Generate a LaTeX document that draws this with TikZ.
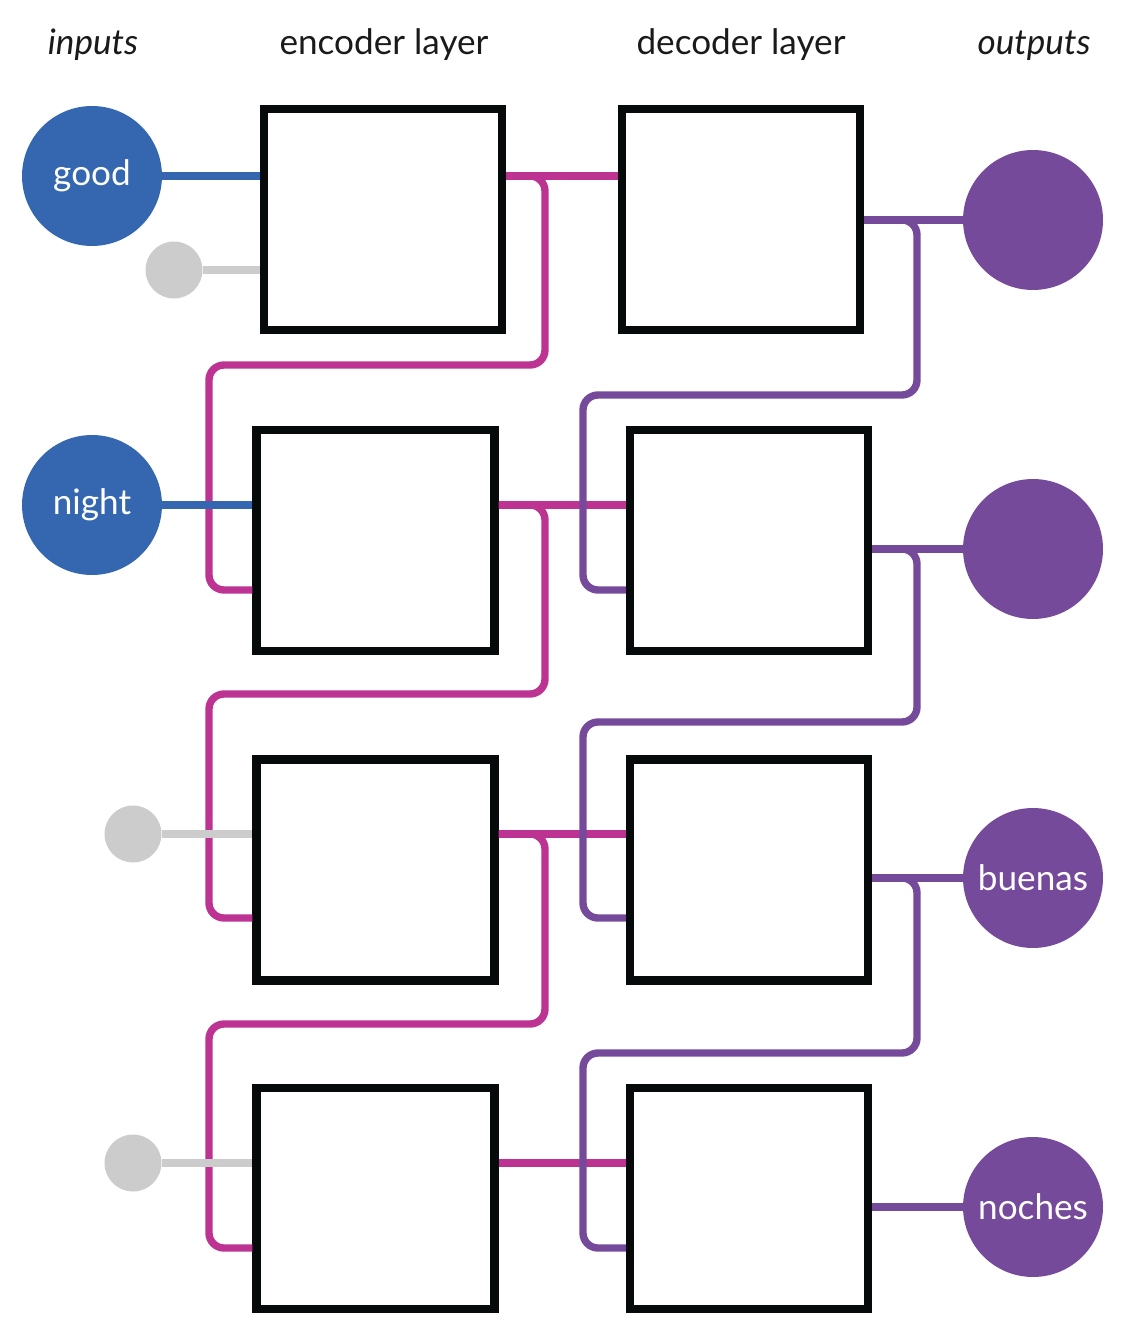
\documentclass[tikz,border=0pt]{standalone}
\usepackage{fontspec}
\setmainfont{Lato}
\usepackage{xcolor}
\definecolor{InBlue}{HTML}{3467B0}
\definecolor{EncPink}{HTML}{BC3392}
\definecolor{DecViolet}{HTML}{764A9A}
\definecolor{PadGray}{HTML}{CCCCCC}
\definecolor{Frame}{HTML}{070A0A}
\definecolor{Ink}{HTML}{1A1A1A}
\usepackage{tikz}
\usetikzlibrary{positioning,calc}

\begin{document}
\begin{tikzpicture}[
  x=0.02cm, y=-0.02cm,
  header/.style={font=\fontsize{20}{20}\selectfont,text=Ink,anchor=base},
  cell/.style={draw=Frame,fill=white,line width=4.6pt,minimum width=4.76cm,minimum height=4.42cm,inner sep=0pt},
  token/.style={circle,inner sep=0pt,minimum size=2.8cm,text=white,font=\fontsize{20}{20}\selectfont},
  intok/.style={token,fill=InBlue},
  outtok/.style={token,fill=DecViolet},
  pad/.style={circle,fill=PadGray,minimum size=1.14cm,inner sep=0pt},
  wire/.style={line width=4.2pt},
  blueline/.style={wire,draw=InBlue},
  grayline/.style={wire,draw=PadGray},
  pinkline/.style={wire,draw=EncPink,rounded corners=0.3cm},
  violetline/.style={wire,draw=DecViolet,rounded corners=0.3cm}
]
  \useasboundingbox (0,0) rectangle (1125,1344);

  \node[header] (hin) at (93,55) {\itshape inputs};
  \node[header] (henc) at (384,55) {encoder layer};
  \node[header] (hdec) at (741,55) {decoder layer};
  \node[header] (hout) at (1034,55) {\itshape outputs};

  \node[cell] (e1) at (383,219.5) {};
  \node[cell] (e2) at (375.5,540.5) {};
  \node[cell] (e3) at (375.5,870) {};
  \node[cell] (e4) at (375.5,1198.5) {};

  \node[cell] (d1) at (741,219.5) {};
  \node[cell] (d2) at (749,540.5) {};
  \node[cell] (d3) at (749,870) {};
  \node[cell] (d4) at (749,1198.5) {};

  \node[intok] (good) at (92,176) {good};
  \node[pad] (p1) at (174,270) {};
  \node[intok] (night) at (92,505) {night};
  \node[pad] (p3) at (133,834) {};
  \node[pad] (p4) at (133,1163) {};

  \node[outtok] (o1) at (1033,220) {};
  \node[outtok] (o2) at (1033,549) {};
  \node[outtok] (o3) at (1033,878) {buenas};
  \node[outtok] (o4) at (1033,1207) {noches};

  % encoder: hidden state to decoder and to next step
  \draw[pinkline] (e1.east |- good) -- (d1.west |- good);
  \draw[pinkline] (e2.east |- night) -- (d2.west |- night);
  \draw[pinkline] (e3.east |- p3) -- (d3.west |- p3);
  \draw[pinkline] (e4.east |- p4) -- (d4.west |- p4);
  \draw[pinkline] (e1.east |- good) -- (545,176) -- (545,365) -- (209,365) -- (209,590) -- (e2.west |- 0,590);
  \draw[pinkline] (e2.east |- night) -- (545,505) -- (545,694) -- (209,694) -- (209,918) -- (e3.west |- 0,918);
  \draw[pinkline] (e3.east |- p3) -- (545,834) -- (545,1024) -- (209,1024) -- (209,1248) -- (e4.west |- 0,1248);

  % decoder: output and next step
  \draw[violetline] (d1.east |- o1) -- (o1.west);
  \draw[violetline] (d2.east |- o2) -- (o2.west);
  \draw[violetline] (d3.east |- o3) -- (o3.west);
  \draw[violetline] (d4.east |- o4) -- (o4.west);
  \draw[violetline] (d1.east |- o1) -- (917,220) -- (917,395) -- (583,395) -- (583,590) -- (d2.west |- 0,590);
  \draw[violetline] (d2.east |- o2) -- (917,549) -- (917,722) -- (583,722) -- (583,918) -- (d3.west |- 0,918);
  \draw[violetline] (d3.east |- o3) -- (917,878) -- (917,1053) -- (583,1053) -- (583,1248) -- (d4.west |- 0,1248);

  % inputs
  \draw[blueline] (good.east) -- (e1.west |- good);
  \draw[blueline] (night.east) -- (e2.west |- night);
  \draw[grayline] (p1.east) -- (e1.west |- p1);
  \draw[grayline] (p3.east) -- (e3.west |- p3);
  \draw[grayline] (p4.east) -- (e4.west |- p4);
\end{tikzpicture}
\end{document}
